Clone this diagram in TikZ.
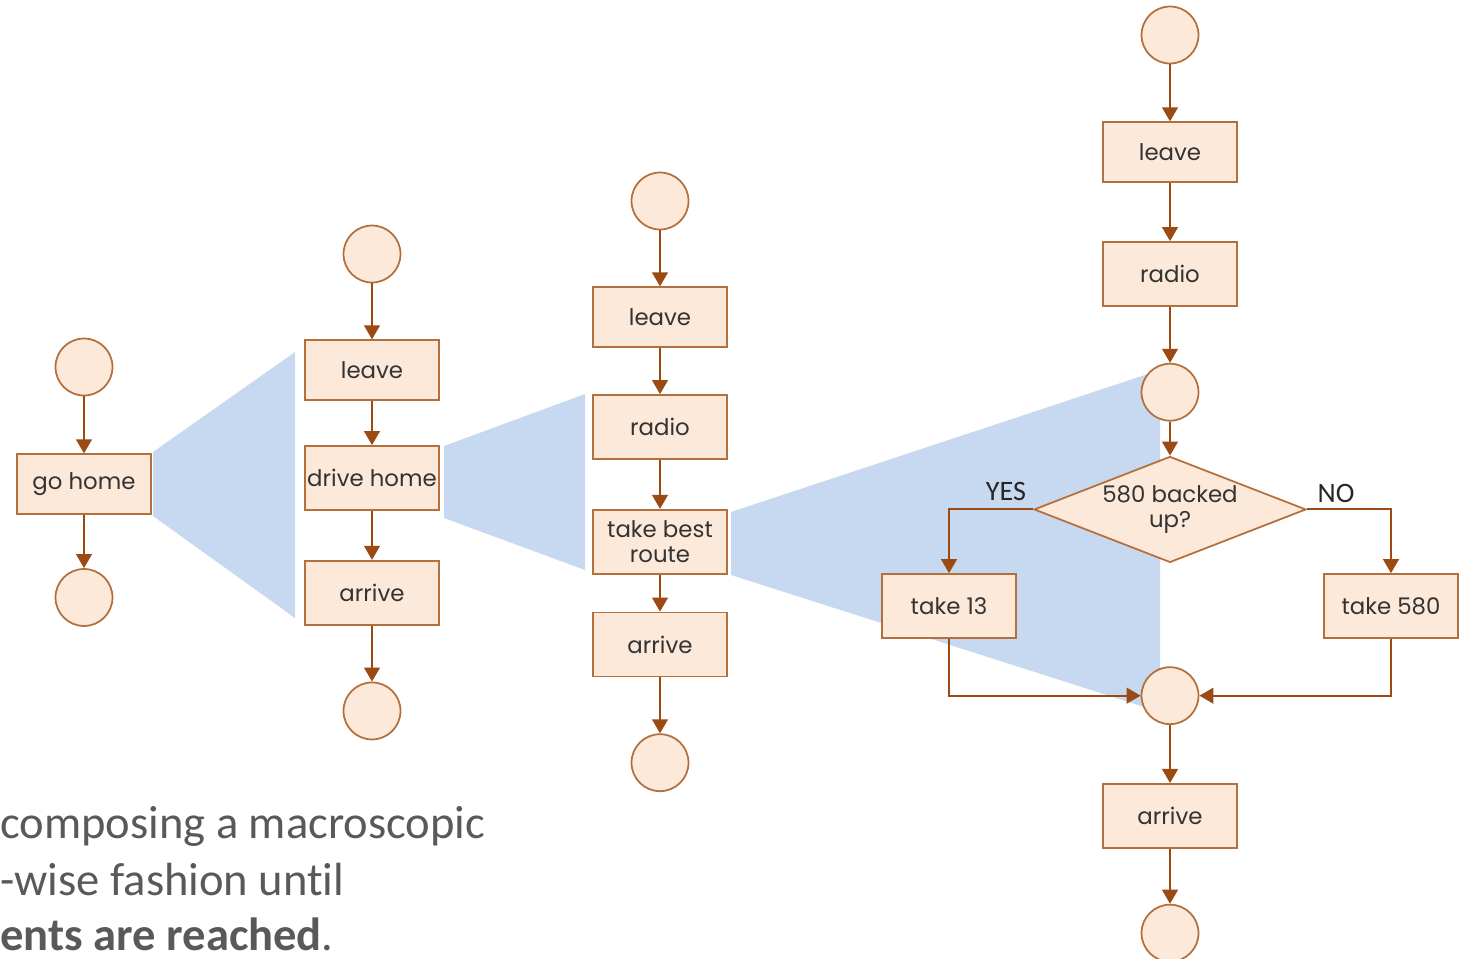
\documentclass[tikz,border=0pt]{standalone}
\usepackage{fontspec}
\setmainfont{Poppins}
\newfontfamily\calibri[Ligatures=NoCommon]{Carlito}
\usetikzlibrary{shapes.geometric, arrows.meta, positioning}
\definecolor{boxfill}{HTML}{FCE9DA}
\definecolor{boxedge}{HTML}{B3703D}
\definecolor{flowline}{HTML}{9A4A12}
\definecolor{zoomblue}{HTML}{C6D9F0}
\definecolor{notegray}{HTML}{595959}
\tikzstyle{line} = [draw=flowline, line width=1.1pt, -{Triangle[width=9pt,length=8pt]}]
\tikzstyle{block} = [rectangle, draw=boxedge, fill=boxfill, line width=1pt, minimum width=2.68cm, minimum height=1.2cm, inner sep=1pt, text=black!80, font=\fontsize{13}{14.5}\selectfont, align=center]
\tikzstyle{tallblock} = [block, minimum height=1.28cm]
\tikzstyle{terminal} = [circle, draw=boxedge, fill=boxfill, line width=1pt, minimum size=1.14cm, inner sep=0pt]
\tikzstyle{decision} = [diamond, aspect=2.57, draw=boxedge, fill=boxfill, line width=1pt, minimum width=5.44cm, minimum height=2.12cm, inner sep=0pt, text=black!80, font=\fontsize{13}{14.5}\selectfont, align=center]
\tikzstyle{answer} = [text=black!85, font=\calibri\fontsize{16}{18}\selectfont]
\tikzstyle{note} = [text=notegray, font=\calibri\fontsize{26.5}{30}\selectfont, anchor=base west, inner sep=0pt]
\tikzstyle{zoomfan} = [fill=zoomblue]

\begin{document}
\begin{tikzpicture}[x=0.02cm, y=-0.02cm, node distance=1.12cm]
\useasboundingbox (0,0) rectangle (1462,958);
% zoom wedges
\fill[zoomfan] (153,452) -- (295,352) -- (295,618) -- (153,516) -- cycle;
\fill[zoomfan] (444,446) -- (585,394) -- (585,570) -- (444,518) -- cycle;
\fill[zoomfan] (731,512) -- (1160,370) -- (1160,712) -- (731,575) -- cycle;
% level 1
\node [terminal] (start1) at (84,367) {};
\node [block, below=1.14cm of start1] (gohome) {go home};
\node [terminal, below=1.06cm of gohome] (end1) {};
% level 2
\node [terminal] (start2) at (372,254) {};
\node [block, below=of start2] (leave2) {leave};
\node [tallblock, below=0.88cm of leave2] (drive2) {drive home};
\node [tallblock, below=0.98cm of drive2] (arrive2) {arrive};
\node [terminal, below=of arrive2] (end2) {};
% level 3
\node [terminal] (start3) at (660,201) {};
\node [block, below=of start3] (leave3) {leave};
\node [tallblock, below=0.92cm of leave3] (radio3) {radio};
\node [tallblock, below=0.98cm of radio3] (route3) {take best\\route};
\node [tallblock, below=0.74cm of route3] (arrive3) {arrive};
\node [terminal, below=of arrive3] (end3) {};
% level 4
\node [terminal] (start4) at (1170,35) {};
\node [block, below=1.14cm of start4] (leave4) {leave};
\node [tallblock, below=1.16cm of leave4] (radio4) {radio};
\node [terminal, below=of radio4] (check4) {};
\node [decision, below=0.68cm of check4] (backed) {580 backed\\up?};
\node [tallblock] (take13) at (949,606) {take 13};
\node [tallblock] (take580) at (1391,606) {take 580};
\node [terminal, below=2.06cm of backed] (merge4) {};
\node [tallblock, below=1.16cm of merge4] (arrive4) {arrive};
\node [terminal, below=1.1cm of arrive4] (end4) {};
\node [answer] (yes) at (1006,491) {YES};
\node [answer] (no) at (1336,493) {NO};
% text
\node [note] (note1) at (0,838) {composing a macroscopic};
\node [note] (note2) at (0,895) {-wise fashion until};
\node [note] (note3) at (0,950) {\bfseries ents are reached\mdseries.};
\path [line] (start1) -- (gohome);
\path [line] (gohome) -- (end1);
\path [line] (start2) -- (leave2);
\path [line] (leave2) -- (drive2);
\path [line] (drive2) -- (arrive2);
\path [line] (arrive2) -- (end2);
\path [line] (start3) -- (leave3);
\path [line] (leave3) -- (radio3);
\path [line] (radio3) -- (route3);
\path [line] (route3) -- (arrive3);
\path [line] (arrive3) -- (end3);
\path [line] (start4) -- (leave4);
\path [line] (leave4) -- (radio4);
\path [line] (radio4) -- (check4);
\path [line] (check4) -- (backed);
\path [line] (backed.west) -| (take13);
\path [line] (backed.east) -| (take580);
\path [line] (take13) |- (merge4);
\path [line] (take580) |- (merge4);
\path [line] (merge4) -- (arrive4);
\path [line] (arrive4) -- (end4);
\end{tikzpicture}
\end{document}
